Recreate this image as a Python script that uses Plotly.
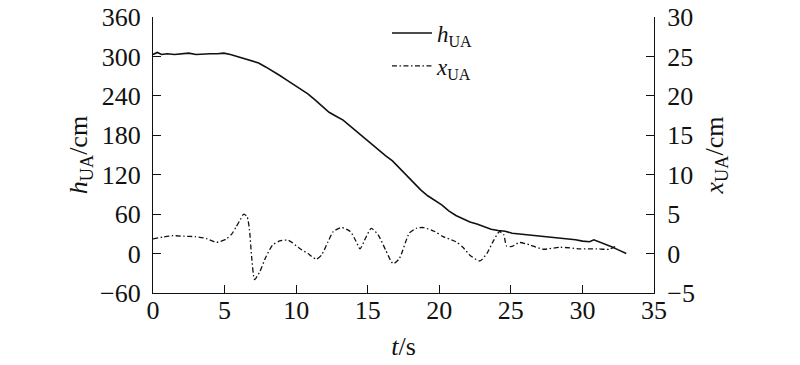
import plotly.graph_objects as go

# ---- data ----
t_h = [0, 0.3, 0.6, 1.0, 1.5, 2.0, 2.5, 3.0, 3.5, 4.0, 4.5, 4.95, 5.41, 5.9, 6.4, 6.89,
       7.38, 7.87, 8.36, 8.86, 9.35, 9.84, 10.33, 10.82, 11.32, 11.81, 12.3, 12.79, 13.28,
       13.78, 14.27, 14.76, 15.25, 15.74, 16.24, 16.73, 17.22, 17.71, 18.2, 18.7, 19.19,
       19.68, 20.17, 20.66, 21.16, 21.65, 22.14, 22.63, 23.12, 23.62, 24.11, 24.6, 25.09,
       25.58, 26.57, 27.55, 28.54, 29.52, 30.01, 30.5, 30.8, 31.29, 31.68, 32.08, 32.47,
       32.77, 33.06]
h_ua = [303, 306, 303, 304, 303, 304, 305, 303, 304, 304, 304, 305, 303, 300, 297, 294,
        290, 284, 278, 271, 264, 257, 250, 243, 234, 224, 215, 209, 203,
        194, 185, 176, 166, 157, 149, 141, 130, 119, 107, 97, 88,
        81, 74, 65, 58, 53, 48, 45, 41, 37, 35, 34, 31,
        30, 28, 26, 23, 21, 19, 18, 21, 17, 13, 10, 6,
        3, 0]

t_x = [0, 0.69, 1.38, 2.16, 2.95, 3.74, 4.43, 5.12, 5.51, 5.81, 6.1, 6.34, 6.57, 6.74,
       6.89, 7.1, 7.46, 7.87, 8.36, 8.86, 9.45, 10.23, 10.82, 11.41, 11.77, 12.2, 12.6,
       13.19, 13.78, 14.17, 14.46, 14.86, 15.25, 15.74, 16.24, 16.78, 17.22, 17.91, 18.4,
       18.89, 19.68, 20.27, 21.16, 21.65, 22.14, 22.83, 23.32, 23.81, 24.21, 24.5, 24.7,
       25.09, 25.58, 26.32, 27.26, 28.44, 29.82, 31.0, 31.88, 32.28]
x_ua = [1.85, 2.1, 2.27, 2.2, 2.14, 1.9, 1.43, 1.85, 2.5, 3.4, 4.3, 5.0, 4.7, 3.0,
        -0.4, -3.3, -2.3, -0.5, 1.1, 1.6, 1.7, 0.67, 0.0, -0.7, -0.2, 1.4, 2.8,
        3.3, 2.8, 1.6, 0.6, 2.0, 3.2, 2.35, 0.5, -1.3, -0.6, 2.6, 3.2,
        3.3, 2.8, 2.15, 1.5, 0.8, -0.2, -0.94, 0.0, 1.7, 2.8, 2.4, 0.96,
        0.9, 1.4, 1.1, 0.55, 0.8, 0.6, 0.6, 0.55, 0.9]

x_ticks = [0, 5, 10, 15, 20, 25, 30, 35]
y_ticks = [-60, 0, 60, 120, 180, 240, 300, 360]
y2_ticks = [-5, 0, 5, 10, 15, 20, 25, 30]

FONT = "Liberation Serif, Times New Roman, serif"

fig = go.Figure()
fig.add_trace(go.Scatter(x=t_h, y=h_ua, mode="lines", name="<i>h</i><sub>UA</sub>",
                         line=dict(color="#111111", width=1.6)))
fig.add_trace(go.Scatter(x=t_x, y=x_ua, mode="lines", name="<i>x</i><sub>UA</sub>",
                         yaxis="y2", line=dict(color="#111111", width=1.3,
                                               dash="5px,2.5px,1.5px,2.5px", shape="spline",
                                               smoothing=0.6)))

axis_common = dict(showgrid=False, zeroline=False, showline=True, linecolor="#111111",
                   linewidth=1.3, ticks="inside", ticklen=8, tickwidth=1.3,
                   automargin=False, ticklabeloverflow="allow",
                   tickcolor="#111111", tickfont=dict(family=FONT, size=26, color="#111111"))

fig.update_layout(
    width=800, height=365,
    margin=dict(l=153, r=146, t=17, b=72, autoexpand=False),
    paper_bgcolor="white", plot_bgcolor="white",
    font=dict(family=FONT, size=26, color="#111111"),
    showlegend=True,
    legend=dict(x=0.467, xanchor="left", y=1.02, yanchor="top",
                bgcolor="rgba(0,0,0,0)", itemwidth=40,
                font=dict(family=FONT, size=23, color="#111111"),
                tracegroupgap=0),
    xaxis=dict(range=[0, 35], tickvals=x_ticks, mirror=False, ticklabelstandoff=-6,
               title=dict(text="<i>t</i>/s", standoff=12,
                          font=dict(family=FONT, size=26)),
               **axis_common),
    yaxis=dict(range=[-60, 360], tickvals=y_ticks, ticklabelstandoff=6,
               title=dict(text="<i>h</i><sub>UA</sub>/cm", standoff=4,
                          font=dict(family=FONT, size=26)),
               **axis_common),
    yaxis2=dict(range=[-5, 30], tickvals=y2_ticks, overlaying="y", side="right",
                ticklabelstandoff=7,
                title=dict(text="<i>x</i><sub>UA</sub>/cm", standoff=10,
                           font=dict(family=FONT, size=26)),
                **axis_common),
)

# remove the page's default 8px body margin so the figure sits at the window corner
fig.write_html("out.html", config={"displayModeBar": False},
               post_script="document.body.style.margin='0px';")
